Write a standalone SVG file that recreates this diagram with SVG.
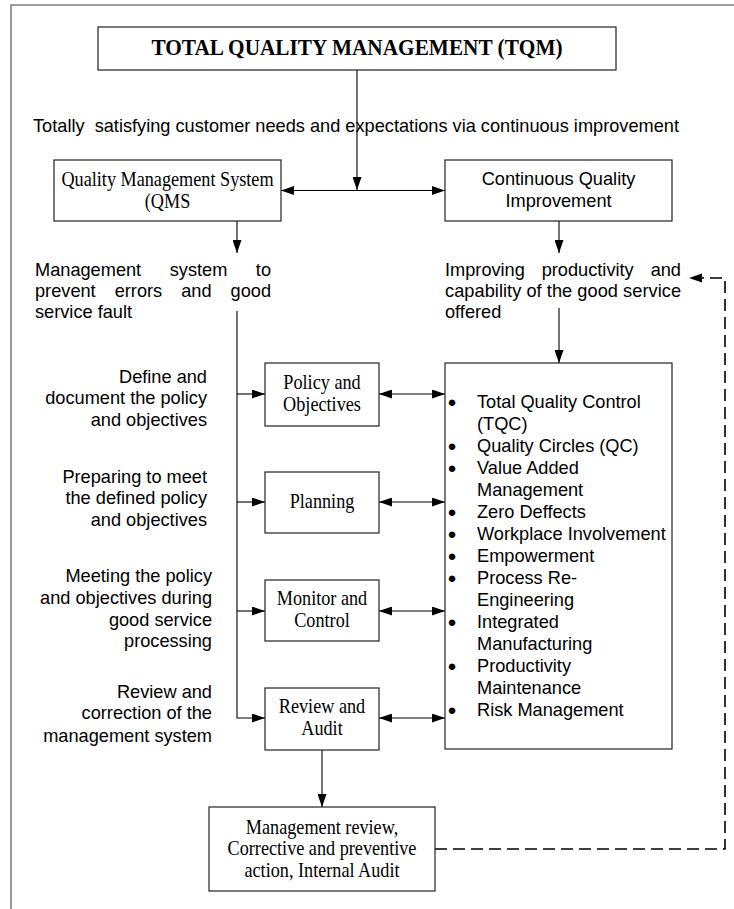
<svg xmlns="http://www.w3.org/2000/svg" width="734" height="909" viewBox="0 0 734 909">
<defs>
<marker id="ah" viewBox="0 0 13 9" markerWidth="13" markerHeight="9" refX="13" refY="4.5" orient="auto-start-reverse" markerUnits="userSpaceOnUse">
<path d="M0,0 L13,4.5 L0,9 z" fill="#000"/>
</marker>
<style>
.box{fill:#fff;stroke:#222;stroke-width:1.2}
.ln{fill:none;stroke:#000;stroke-width:1.1}
.dash{fill:none;stroke:#000;stroke-width:1.6;stroke-dasharray:12 6}
.sans{font-family:"Liberation Sans",Arial,sans-serif;font-size:18.2px;fill:#000}
.serif{font-family:"Liberation Serif","Times New Roman",serif;font-size:20px;fill:#000;text-anchor:middle}
.title{font-family:"Liberation Serif","Times New Roman",serif;font-size:23.5px;font-weight:bold;fill:#000;text-anchor:middle}
.bul{font-family:"Liberation Sans","DejaVu Sans",sans-serif;font-size:15px;fill:#000;text-anchor:middle}
.mid{text-anchor:middle}
.end{text-anchor:end}
</style>
</defs>
<rect x="0" y="0" width="734" height="909" fill="#fff"/>
<path d="M11,909 L11,5 L734,5" fill="none" stroke="#808080" stroke-width="1.6"/>

<g id="connectors">
<line class="ln" x1="357" y1="70" x2="357" y2="190" marker-end="url(#ah)"/>
<line class="ln" x1="281" y1="190.5" x2="445" y2="190.5" marker-start="url(#ah)" marker-end="url(#ah)"/>
<line class="ln" x1="237" y1="221" x2="237" y2="253" marker-end="url(#ah)"/>
<line class="ln" x1="559" y1="221" x2="559" y2="253" marker-end="url(#ah)"/>
<path class="ln" d="M237,311 L237,718 L265,718" marker-end="url(#ah)"/>
<line class="ln" x1="237" y1="394" x2="265" y2="394" marker-end="url(#ah)"/>
<line class="ln" x1="237" y1="502" x2="265" y2="502" marker-end="url(#ah)"/>
<line class="ln" x1="237" y1="611" x2="265" y2="611" marker-end="url(#ah)"/>
<line class="ln" x1="379" y1="394" x2="445" y2="394" marker-start="url(#ah)" marker-end="url(#ah)"/>
<line class="ln" x1="379" y1="502" x2="445" y2="502" marker-start="url(#ah)" marker-end="url(#ah)"/>
<line class="ln" x1="379" y1="611" x2="445" y2="611" marker-start="url(#ah)" marker-end="url(#ah)"/>
<line class="ln" x1="379" y1="718" x2="445" y2="718" marker-start="url(#ah)" marker-end="url(#ah)"/>
<line class="ln" x1="559" y1="308" x2="559" y2="363" marker-end="url(#ah)"/>
<line class="ln" x1="322" y1="750" x2="322" y2="807" marker-end="url(#ah)"/>
<path class="dash" d="M435,849 L725,849 L725,278 L702,278"/>
<path d="M689,278 L702,273.5 L702,282.5 z" fill="#000"/>
</g>

<g id="tqm">
<rect class="box" x="98" y="27" width="518" height="43"/>
<text class="title" transform="translate(357,55) scale(0.906,1)" x="0" y="0">TOTAL QUALITY MANAGEMENT (TQM)</text>
</g>

<g id="tqm-desc">
<text class="sans" x="33" y="132" xml:space="preserve">Totally  satisfying customer needs and expectations via continuous improvement</text>
</g>

<g id="qms">
<rect class="box" x="54" y="160" width="227" height="61"/>
<g transform="translate(167.5,0) scale(0.91,1)">
<text class="serif" x="0" y="186">Quality Management System</text>
<text class="serif" x="0" y="208">(QMS</text>
</g>
</g>

<g id="cqi">
<rect class="box" x="445" y="160" width="227" height="61"/>
<text class="sans mid" x="558.5" y="185">Continuous Quality</text>
<text class="sans mid" x="558.5" y="207">Improvement</text>
</g>

<g id="qms-desc">
<text class="sans" x="35" y="276">Management</text>
<text class="sans" x="169.7" y="276">system</text>
<text class="sans end" x="271" y="276">to</text>
<text class="sans" x="35" y="297">prevent</text>
<text class="sans" x="114.7" y="297">errors</text>
<text class="sans" x="181.2" y="297">and</text>
<text class="sans end" x="271" y="297">good</text>
<text class="sans" x="35" y="318">service fault</text>
</g>

<g id="cqi-desc">
<text class="sans" x="445" y="276">Improving</text>
<text class="sans" x="541.7" y="276">productivity</text>
<text class="sans end" x="681" y="276">and</text>
<text class="sans" x="445" y="297" textLength="236" lengthAdjust="spacing">capability of the good service</text>
<text class="sans" x="445" y="318">offered</text>
</g>

<g id="label-policy">
<text class="sans end" x="207" y="383">Define and</text>
<text class="sans end" x="207" y="404">document the policy</text>
<text class="sans end" x="207" y="426">and objectives</text>
</g>
<g id="label-planning">
<text class="sans end" x="207" y="483">Preparing to meet</text>
<text class="sans end" x="207" y="504">the defined policy</text>
<text class="sans end" x="207" y="526">and objectives</text>
</g>
<g id="label-monitor">
<text class="sans end" x="212" y="582">Meeting the policy</text>
<text class="sans end" x="212" y="604">and objectives during</text>
<text class="sans end" x="212" y="626">good service</text>
<text class="sans end" x="212" y="647">processing</text>
</g>
<g id="label-review">
<text class="sans end" x="212" y="698">Review and</text>
<text class="sans end" x="212" y="719">correction of the</text>
<text class="sans end" x="212" y="742">management system</text>
</g>

<g id="policy">
<rect class="box" x="265" y="363" width="114" height="63"/>
<g transform="translate(322,0) scale(0.91,1)">
<text class="serif" x="0" y="389">Policy and</text>
<text class="serif" x="0" y="411">Objectives</text>
</g>
</g>
<g id="planning">
<rect class="box" x="265" y="472" width="114" height="61"/>
<g transform="translate(322,0) scale(0.91,1)">
<text class="serif" x="0" y="508">Planning</text>
</g>
</g>
<g id="monitor">
<rect class="box" x="265" y="580" width="114" height="61"/>
<g transform="translate(322,0) scale(0.91,1)">
<text class="serif" x="0" y="605">Monitor and</text>
<text class="serif" x="0" y="627">Control</text>
</g>
</g>
<g id="review">
<rect class="box" x="265" y="688" width="114" height="62"/>
<g transform="translate(322,0) scale(0.91,1)">
<text class="serif" x="0" y="713">Review and</text>
<text class="serif" x="0" y="735">Audit</text>
</g>
</g>

<g id="tools">
<rect class="box" x="445" y="363" width="227" height="386"/>
<g class="bul">
<text x="452" y="406.5">●</text>
<text x="452" y="450.5">●</text>
<text x="452" y="472.5">●</text>
<text x="452" y="516.5">●</text>
<text x="452" y="538.5">●</text>
<text x="452" y="560.5">●</text>
<text x="452" y="582.5">●</text>
<text x="452" y="626.5">●</text>
<text x="452" y="670.5">●</text>
<text x="452" y="714.5">●</text>
</g>
<g class="sans">
<text x="477" y="407.5">Total Quality Control</text>
<text x="477" y="429.5">(TQC)</text>
<text x="477" y="451.5">Quality Circles (QC)</text>
<text x="477" y="473.5">Value Added</text>
<text x="477" y="495.5">Management</text>
<text x="477" y="517.5">Zero Deffects</text>
<text x="477" y="539.5">Workplace Involvement</text>
<text x="477" y="561.5">Empowerment</text>
<text x="477" y="583.5">Process Re-</text>
<text x="477" y="605.5">Engineering</text>
<text x="477" y="627.5">Integrated</text>
<text x="477" y="649.5">Manufacturing</text>
<text x="477" y="671.5">Productivity</text>
<text x="477" y="693.5">Maintenance</text>
<text x="477" y="715.5">Risk Management</text>
</g>
</g>

<g id="mgmt-review">
<rect class="box" x="209" y="807" width="226" height="84"/>
<g transform="translate(322,0) scale(0.91,1)">
<text class="serif" x="0" y="834">Management review,</text>
<text class="serif" x="0" y="855">Corrective and preventive</text>
<text class="serif" x="0" y="877">action, Internal Audit</text>
</g>
</g>
</svg>
